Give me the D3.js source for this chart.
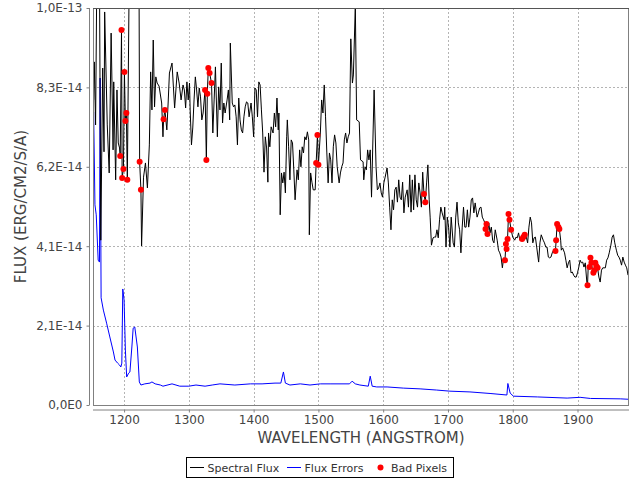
<!DOCTYPE html>
<html><head><meta charset="utf-8">
<script src="https://cdn.jsdelivr.net/npm/d3@7/dist/d3.min.js"></script>
<style>body{margin:0;background:#fff;} svg{display:block;font-family:"DejaVu Sans",sans-serif;}</style>
</head><body><svg id="chart" width="640" height="480"></svg>
<script>
// flux values are in units of 1e-14 erg/cm2/s/A
const FLUX_UNIT = 1e-14;
const spectralFlux = [
[1153,7.94],[1154,8.93],[1156,7.29],[1158,11.32],[1160,10.80],[1162,11.32],[1164,4.29],[1167,8.77],[1169,6.59],[1170,10.23],
[1174,7.29],[1177,6.04],[1180,9.68],[1183,6.64],[1184,8.41],[1187,5.86],[1189,8.20],[1191,6.82],[1193,6.69],[1194,6.48],
[1196,9.76],[1197,5.91],[1199,6.14],[1200.5,8.67],[1202,7.39],[1203.5,7.60],[1205,5.86],[1208,11.32],[1223,11.32],[1224,6.33],
[1226,5.60],[1227,4.14],[1230,5.93],[1233,6.30],[1236,5.65],[1239,6.77],[1241,8.67],[1243,7.68],[1245,9.50],[1247,7.76],
[1249,8.54],[1251,8.38],[1254,8.30],[1258,7.86],[1260,6.98],[1261,7.44],[1263,7.68],[1266,7.16],[1268,7.86],[1270,8.64],
[1274,8.90],[1278,7.73],[1282,8.67],[1285,8.38],[1288,7.94],[1291,8.33],[1293,8.20],[1295,7.73],[1297,8.41],[1299,7.94],
[1301,8.38],[1302,7.68],[1304,6.77],[1306,7.21],[1308,7.94],[1310,8.54],[1312,8.20],[1314,7.76],[1316,8.25],[1318,8.02],
[1320,7.42],[1322,7.60],[1325,8.20],[1327,6.38],[1328.5,8.10],[1330,8.77],[1332,8.64],[1335,8.38],[1337,7.08],[1339,7.94],
[1341,8.80],[1344,6.98],[1346,8.28],[1348,7.68],[1350,8.90],[1352,7.34],[1354,7.86],[1356,7.60],[1359,7.94],[1361,8.20],
[1363,7.42],[1364,9.42],[1367,7.86],[1369,7.76],[1371,7.81],[1373,7.50],[1375,6.77],[1377,7.99],[1379,7.42],[1381,7.16],
[1383,7.08],[1385,7.50],[1387,7.76],[1389,7.89],[1391,7.86],[1393,7.50],[1396,7.86],[1398,7.50],[1400,6.98],[1402,8.25],
[1404,8.20],[1406,7.50],[1408,8.41],[1410,8.33],[1412,7.68],[1414,7.08],[1416,6.06],[1418,6.98],[1420,6.69],[1422,5.80],
[1423,7.08],[1425,6.72],[1427,7.24],[1430,7.08],[1432,7.60],[1434,7.24],[1436,7.99],[1438,7.16],[1439,7.60],[1441,4.95],
[1443,6.04],[1445,5.78],[1447,6.06],[1449,5.52],[1451,6.98],[1452,7.42],[1454,6.72],[1456,5.86],[1458,6.90],[1460,6.82],
[1462,6.12],[1464,5.34],[1467,6.12],[1469,5.86],[1471,6.64],[1473,6.20],[1475,6.72],[1477,6.56],[1479,6.98],[1481,6.90],
[1483,7.11],[1485,6.90],[1486,4.43],[1488,6.04],[1490,5.80],[1492,5.60],[1495,5.60],[1496.5,6.30],[1498.5,7.03],[1500,6.25],
[1503,7.08],[1505,7.94],[1507,7.60],[1509,8.33],[1511,7.50],[1513,6.56],[1515,5.78],[1517,6.56],[1519,6.38],[1521,5.78],
[1523,6.72],[1525,7.03],[1527,6.82],[1529,6.20],[1532,5.78],[1534,6.04],[1536,6.20],[1538,6.30],[1540,6.90],[1542,7.08],
[1544,6.82],[1546,6.98],[1548,7.08],[1550,9.53],[1552.5,8.38],[1554,8.59],[1557,10.41],[1559,7.42],[1563,7.37],[1565,6.38],
[1569,6.33],[1570,5.86],[1572,6.20],[1574,6.12],[1576,6.64],[1578,6.38],[1580,6.64],[1582,5.41],[1586,8.20],[1589,6.20],
[1591,5.60],[1593,5.65],[1595,5.78],[1597,5.52],[1599,5.41],[1601,5.78],[1603,5.93],[1606,6.17],[1608,5.78],[1610,5.15],
[1612,4.56],[1614,5.34],[1616,5.08],[1618,5.60],[1620,5.67],[1622,5.28],[1624,5.86],[1626,5.41],[1628,5.34],[1630,5.80],
[1632,5.00],[1634,5.41],[1637,5.60],[1639,5.15],[1641,5.99],[1643,5.02],[1645,5.86],[1647,5.08],[1649,5.99],[1651,5.34],
[1653,5.15],[1655,5.78],[1657,5.52],[1659,5.15],[1661,6.06],[1663,5.49],[1665,5.28],[1667,5.78],[1669,6.25],[1671,5.34],
[1672.5,4.89],[1674.5,4.16],[1677,4.35],[1679,4.37],[1681,4.37],[1683,4.56],[1685,4.35],[1687,4.82],[1689,5.15],[1691,5.00],
[1694,4.82],[1695,5.15],[1697,4.11],[1699,4.89],[1701,4.63],[1703,4.11],[1705,4.89],[1708,4.22],[1710,4.11],[1712,4.89],
[1714,5.28],[1716,4.74],[1718,4.56],[1720,3.96],[1722,4.63],[1724,5.15],[1726,4.63],[1728,4.63],[1730,5.08],[1732,4.63],
[1734,4.89],[1736,5.34],[1738,5.39],[1740,5.00],[1742,5.26],[1745,4.89],[1747,5.00],[1749,5.13],[1751,5.15],[1753,4.89],
[1755,4.82],[1757,4.74],[1758,4.58],[1759.5,4.71],[1761,4.45],[1763,4.74],[1765,4.48],[1767,4.63],[1769,4.29],[1771,4.22],
[1773,4.56],[1776,4.29],[1778,4.03],[1780,3.96],[1782,3.85],[1784,3.57],[1786,3.83],[1788,3.77],[1789.5,4.19],[1790.5,4.06],
[1792,4.32],[1793.5,4.97],[1795,4.82],[1797.5,4.56],[1800,4.37],[1803,4.29],[1805,4.37],[1807,4.35],[1809,4.48],[1811,4.29],
[1814.5,4.32],[1816.5,4.37],[1818.5,4.43],[1821,4.37],[1823,4.22],[1825,4.63],[1827,4.89],[1829,4.74],[1831,4.22],[1833,4.35],
[1835,4.37],[1837,4.11],[1840,3.72],[1842,4.22],[1844,4.43],[1847,4.29],[1849,4.22],[1851,4.11],[1853,4.11],[1855,3.85],
[1857,3.83],[1859,3.85],[1861,3.96],[1863,4.03],[1865,3.98],[1866,4.01],[1867,4.29],[1868.5,4.71],[1870.5,4.63],[1872,4.58],
[1874,4.29],[1875,4.03],[1877,4.09],[1880,3.96],[1882,3.77],[1884,3.57],[1886,3.70],[1888,3.77],[1890,3.44],[1892,3.46],
[1894,3.38],[1896,3.33],[1898,3.33],[1900,3.44],[1902,3.59],[1904,3.77],[1906,3.70],[1908,3.72],[1910,3.59],[1912,3.70],
[1914.5,3.18],[1915.5,3.12],[1916.5,3.59],[1918.5,3.59],[1920,3.83],[1921.5,3.70],[1923.5,3.46],[1924.5,3.44],[1926,3.51],[1927.5,3.70],
[1929,3.62],[1931,3.57],[1933,3.33],[1935,3.20],[1937,3.51],[1939,3.57],[1941,3.57],[1943,3.57],[1945,3.77],[1947,3.83],
[1949,3.96],[1951.5,4.16],[1953.5,4.37],[1955.5,4.43],[1957.5,4.22],[1960,4.03],[1962,3.90],[1964,3.85],[1966,3.77],[1968,3.64],
[1970,3.85],[1972,3.72],[1974,3.64],[1976,3.57],[1978,3.38]
];
const fluxErrors = [
[1153,7.63],[1155,5.21],[1157,4.95],[1160,3.77],[1162,3.72],[1163,8.51],[1164.5,2.79],[1168,2.47],[1173,2.13],[1178,1.77],
[1183.5,1.38],[1186,1.17],[1190,1.09],[1193,1.04],[1195,0.99],[1196.5,1.09],[1198,3.02],[1200,2.73],[1202,1.43],[1204,0.73],
[1207,0.83],[1209,0.86],[1212,1.51],[1214,2.00],[1216.5,2.03],[1218.5,1.77],[1220.5,1.51],[1223.5,0.60],[1226,0.52],[1232,0.55],
[1240,0.57],[1243,0.60],[1248,0.55],[1256,0.52],[1260,0.49],[1274,0.55],[1286,0.49],[1300,0.49],[1311,0.52],[1325,0.49],
[1336,0.52],[1348,0.55],[1371,0.52],[1395,0.55],[1413,0.55],[1433,0.57],[1442,0.57],[1446,0.86],[1449,0.57],[1456,0.52],
[1472,0.55],[1487,0.52],[1503,0.55],[1518,0.55],[1548,0.55],[1552,0.62],[1557,0.55],[1564,0.52],[1577,0.49],[1580,0.75],
[1583,0.49],[1590,0.47],[1606,0.47],[1631,0.44],[1657,0.42],[1682,0.39],[1703,0.36],[1734,0.34],[1765,0.30],[1791,0.26],
[1792.5,0.56],[1796,0.31],[1801,0.23],[1838,0.21],[1884,0.18],[1904,0.20],[1920,0.17],[1966,0.16],[1978,0.15]
];
const badPixels = [
[1194,6.48],[1196,9.76],[1197,5.91],[1199,6.14],[1200.5,8.67],[1202,7.39],[1203.5,7.60],[1205,5.86],[1224,6.33],[1226,5.60],
[1261,7.44],[1263,7.68],[1325,8.20],[1327,6.38],[1328.5,8.10],[1330,8.77],[1332,8.64],[1335,8.38],[1496.5,6.30],[1498.5,7.03],
[1500,6.25],[1663,5.49],[1665,5.28],[1758,4.58],[1759.5,4.71],[1761,4.45],[1788,3.77],[1789.5,4.19],[1790.5,4.06],[1792,4.32],
[1793.5,4.97],[1795,4.82],[1797.5,4.56],[1814.5,4.32],[1816.5,4.37],[1818.5,4.43],[1866,4.01],[1867,4.29],[1868.5,4.71],[1870.5,4.63],
[1872,4.58],[1915.5,3.12],[1918.5,3.59],[1920,3.83],[1921.5,3.70],[1924.5,3.44],[1926,3.51],[1927.5,3.70],[1929,3.62],[1931,3.57]
];
const xTicks = [1200,1300,1400,1500,1600,1700,1800,1900];
const yTicks = [0, 2.0667, 4.1333, 6.2, 8.2667, 10.333];
const yTickLabels = ["0,0E0","2,1E-14","4,1E-14","6,2E-14","8,3E-14","1,0E-13"];
const xDomain = [1152, 1979.5];
const yDomain = [0, 10.333];
const seriesNames = ["Spectral Flux","Flux Errors","Bad Pixels"];
const seriesColors = ["#000000","#0000ff","#ff0000"];

const svg = d3.select("#chart");
const P = {l:93, r:629, t:8, b:405};
const x = d3.scaleLinear().domain(xDomain).range([P.l, P.r]);
const y = d3.scaleLinear().domain(yDomain.map(v=>v*FLUX_UNIT)).range([P.b, P.t]);

svg.append("rect").attr("width",640).attr("height",480).attr("fill","#fff");
svg.append("defs").append("clipPath").attr("id","clip")
  .append("rect").attr("x",P.l).attr("y",P.t).attr("width",P.r-P.l).attr("height",P.b-P.t);

// grid
const grid = svg.append("g").attr("stroke","#b4b4b4").attr("stroke-width",1).attr("stroke-dasharray","2,2").attr("shape-rendering","crispEdges");
grid.selectAll(".gx").data(xTicks).enter().append("line")
  .attr("x1",d=>Math.round(x(d))+0.5).attr("x2",d=>Math.round(x(d))+0.5).attr("y1",P.t).attr("y2",P.b);
grid.selectAll(".gy").data(yTicks.slice(1,-1)).enter().append("line")
  .attr("y1",d=>Math.round(y(d*FLUX_UNIT))+0.5).attr("y2",d=>Math.round(y(d*FLUX_UNIT))+0.5).attr("x1",P.l).attr("x2",P.r);

const plot = svg.append("g").attr("clip-path","url(#clip)");
const line = d3.line().x(d=>x(d[0])).y(d=>y(d[1]*FLUX_UNIT));
plot.append("path").datum(fluxErrors).attr("d",line).attr("fill","none").attr("stroke",seriesColors[1]).attr("stroke-width",1);
plot.append("path").datum(spectralFlux).attr("d",line).attr("fill","none").attr("stroke",seriesColors[0]).attr("stroke-width",1);
plot.selectAll("circle").data(badPixels).enter().append("circle")
  .attr("cx",d=>x(d[0])).attr("cy",d=>y(d[1]*FLUX_UNIT)).attr("r",3).attr("fill",seriesColors[2]);

// outline
svg.append("rect").attr("x",P.l+0.5).attr("y",P.t+0.5).attr("width",P.r-P.l-1).attr("height",P.b-P.t)
  .attr("fill","none").attr("stroke","#808080").attr("shape-rendering","crispEdges");
svg.append("line").attr("x1",P.l).attr("x2",P.r).attr("y1",P.t+0.5).attr("y2",P.t+0.5).attr("stroke","#555");

// axes
const xAxis = d3.axisBottom(x).tickValues(xTicks).tickSize(3).tickPadding(3).tickFormat(d3.format("d"));
const gx = svg.append("g").attr("transform",`translate(0,${P.b+4.5})`).call(xAxis);
const yAxis = d3.axisLeft(y).tickValues(yTicks.map(v=>v*FLUX_UNIT)).tickSize(3).tickPadding(4)
  .tickFormat((d,i)=>yTickLabels[i]);
const gy = svg.append("g").attr("transform",`translate(${P.l-3.5},0)`).call(yAxis);
[gx,gy].forEach(g=>{
  g.select(".domain").attr("stroke","#808080");
  g.selectAll(".tick line").attr("stroke","#808080");
  g.selectAll("text").attr("fill","#444").attr("font-size","12px").attr("font-family","DejaVu Sans");
});
gx.select(".domain").attr("d",`M${P.l},0.5H${P.r}`);
gy.select(".domain").attr("d",`M0,${P.t}V${P.b}`);

svg.append("text").attr("x",(P.l+P.r)/2).attr("y",443).attr("text-anchor","middle")
  .attr("font-size","15px").attr("fill","#444").text("WAVELENGTH (ANGSTROM)");
svg.append("text").attr("transform",`translate(26,${(P.t+P.b)/2}) rotate(-90)`).attr("text-anchor","middle")
  .attr("font-size","15px").attr("fill","#444").text("FLUX (ERG/CM2/S/A)");

// legend
const lg = svg.append("g");
lg.append("rect").attr("x",186.5).attr("y",457.5).attr("width",267).attr("height",20).attr("fill","#fff").attr("stroke","#000");
const items = [{x:190,type:"line"},{x:287,type:"line"},{x:377,type:"dot"}];
items.forEach((it,i)=>{
  if(it.type==="line"){
    lg.append("line").attr("x1",it.x).attr("x2",it.x+14).attr("y1",467.5).attr("y2",467.5).attr("stroke",seriesColors[i]);
    lg.append("text").attr("x",it.x+17.5).attr("y",471.5).attr("font-size","11px").attr("fill","#333").text(seriesNames[i]);
  } else {
    lg.append("circle").attr("cx",it.x+3.5).attr("cy",467.5).attr("r",3).attr("fill",seriesColors[i]);
    lg.append("text").attr("x",it.x+14).attr("y",471.5).attr("font-size","11px").attr("fill","#333").text(seriesNames[i]);
  }
});
</script></body></html>
